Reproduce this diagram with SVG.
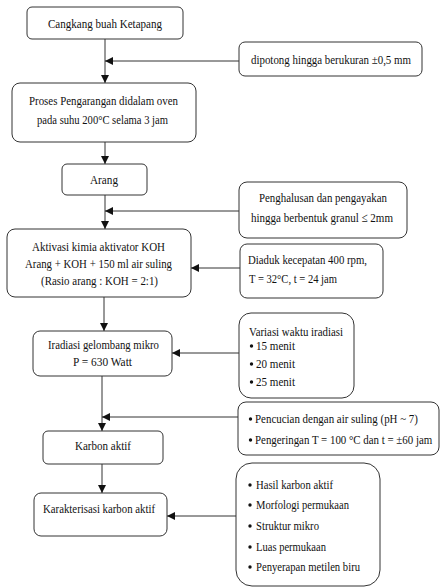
<svg xmlns="http://www.w3.org/2000/svg" width="441" height="587" viewBox="0 0 441 587">
<defs>
<style>
.box{fill:#fff;stroke:#333;stroke-width:1}
.t{font-family:"Liberation Serif","Times New Roman",serif;font-size:13px;fill:#111}
.c{text-anchor:middle}
.ln{stroke:#333;stroke-width:1;fill:none}
.b{fill:#111}
</style>
<marker id="ah" viewBox="0 0 8 8" refX="8" refY="4" markerWidth="8" markerHeight="8" markerUnits="userSpaceOnUse" orient="auto">
<path d="M0,0 L8,4 L0,8 Z" fill="#111"/>
</marker>
</defs>
<rect width="441" height="587" fill="#fff"/>
<g id="connectors">
<line class="ln" x1="105" y1="39" x2="105" y2="83" marker-end="url(#ah)"/>
<line class="ln" x1="239" y1="61" x2="105" y2="61" marker-end="url(#ah)"/>
<line class="ln" x1="105" y1="142" x2="105" y2="164" marker-end="url(#ah)"/>
<line class="ln" x1="105" y1="195" x2="105" y2="229" marker-end="url(#ah)"/>
<line class="ln" x1="239" y1="211" x2="105" y2="211" marker-end="url(#ah)"/>
<line class="ln" x1="240" y1="268" x2="191" y2="268" marker-end="url(#ah)"/>
<line class="ln" x1="104" y1="297" x2="104" y2="331" marker-end="url(#ah)"/>
<line class="ln" x1="239" y1="353" x2="172" y2="353" marker-end="url(#ah)"/>
<line class="ln" x1="102" y1="376" x2="102" y2="431" marker-end="url(#ah)"/>
<line class="ln" x1="238" y1="417" x2="102" y2="417" marker-end="url(#ah)"/>
<line class="ln" x1="102" y1="464" x2="102" y2="493" marker-end="url(#ah)"/>
<line class="ln" x1="236" y1="516" x2="167" y2="516" marker-end="url(#ah)"/>
</g>
<g id="n1"><rect class="box" x="27" y="7" width="156" height="32" rx="5"/><text class="t" x="48" y="28" textLength="114" lengthAdjust="spacingAndGlyphs">Cangkang buah Ketapang</text></g>
<g id="n2"><rect class="box" x="239" y="42" width="183" height="34" rx="6"/><text class="t" x="251" y="64" textLength="160" lengthAdjust="spacingAndGlyphs">dipotong hingga berukuran ±0,5 mm</text></g>
<g id="n3"><rect class="box" x="12" y="83" width="184" height="59" rx="8"/><text class="t" x="29" y="105" textLength="149" lengthAdjust="spacingAndGlyphs">Proses Pengarangan didalam oven</text><text class="t" x="37" y="124" textLength="131" lengthAdjust="spacingAndGlyphs">pada suhu 200°C selama 3 jam</text></g>
<g id="n4"><rect class="box" x="62" y="164" width="85" height="31" rx="5"/><text class="t" x="90" y="184" textLength="28" lengthAdjust="spacingAndGlyphs">Arang</text></g>
<g id="n5"><rect class="box" x="239" y="182" width="168" height="56" rx="8"/><text class="t" x="259" y="202" textLength="128" lengthAdjust="spacingAndGlyphs">Penghalusan dan pengayakan</text><text class="t" x="251" y="222" textLength="142" lengthAdjust="spacingAndGlyphs">hingga berbentuk granul ≤ 2mm</text></g>
<g id="n6"><rect class="box" x="7" y="229" width="184" height="68" rx="8"/><text class="t" x="32" y="251" textLength="133" lengthAdjust="spacingAndGlyphs">Aktivasi kimia aktivator KOH</text><text class="t" x="25" y="268" textLength="147" lengthAdjust="spacingAndGlyphs">Arang + KOH + 150 ml air suling</text><text class="t" x="41" y="285" textLength="117" lengthAdjust="spacingAndGlyphs">(Rasio arang : KOH = 2:1)</text></g>
<g id="n7"><rect class="box" x="240" y="244" width="143" height="54" rx="7"/><text class="t" x="248" y="264" textLength="119" lengthAdjust="spacingAndGlyphs">Diaduk kecepatan 400 rpm,</text><text class="t" x="249" y="283" textLength="88" lengthAdjust="spacingAndGlyphs">T = 32°C, t = 24 jam</text></g>
<g id="n8"><rect class="box" x="33" y="331" width="139" height="45" rx="7"/><text class="t" x="48" y="349" textLength="111" lengthAdjust="spacingAndGlyphs">Iradiasi gelombang mikro</text><text class="t" x="73" y="366" textLength="59" lengthAdjust="spacingAndGlyphs">P = 630 Watt</text></g>
<g id="n9"><rect class="box" x="239" y="313" width="115" height="85" rx="12"/><text class="t" x="249" y="336" textLength="94" lengthAdjust="spacingAndGlyphs">Variasi waktu iradiasi</text><circle class="b" cx="251.5" cy="346" r="1.7"/><text class="t" x="256" y="350" textLength="39" lengthAdjust="spacingAndGlyphs">15 menit</text><circle class="b" cx="251.5" cy="364" r="1.7"/><text class="t" x="256" y="368" textLength="39" lengthAdjust="spacingAndGlyphs">20 menit</text><circle class="b" cx="251.5" cy="382" r="1.7"/><text class="t" x="256" y="386" textLength="39" lengthAdjust="spacingAndGlyphs">25 menit</text></g>
<g id="n10"><rect class="box" x="238" y="402" width="201" height="53" rx="8"/><circle class="b" cx="250.5" cy="419" r="1.7"/><text class="t" transform="translate(255,423) scale(0.84,1)" x="0" y="0" textLength="194" lengthAdjust="spacingAndGlyphs">Pencucian dengan air suling (pH ~ 7)</text><circle class="b" cx="250.5" cy="440" r="1.7"/><text class="t" transform="translate(255,444) scale(0.84,1)" x="0" y="0" textLength="211" lengthAdjust="spacingAndGlyphs">Pengeringan T = 100 °C dan t = ±60 jam</text></g>
<g id="n11"><rect class="box" x="43" y="431" width="120" height="33" rx="5"/><text class="t" x="75" y="450" textLength="56" lengthAdjust="spacingAndGlyphs">Karbon aktif</text></g>
<g id="n12"><rect class="box" x="34" y="493" width="133" height="43" rx="7"/><text class="t" x="43" y="513" textLength="112" lengthAdjust="spacingAndGlyphs">Karakterisasi karbon aktif</text></g>
<g id="n13"><rect class="box" x="236" y="463" width="144" height="123" rx="16"/><circle class="b" cx="250" cy="485" r="1.7"/><text class="t" x="256" y="489" textLength="77" lengthAdjust="spacingAndGlyphs">Hasil karbon aktif</text><circle class="b" cx="250" cy="505" r="1.7"/><text class="t" x="256" y="509" textLength="93" lengthAdjust="spacingAndGlyphs">Morfologi permukaan</text><circle class="b" cx="250" cy="526" r="1.7"/><text class="t" x="256" y="530" textLength="63" lengthAdjust="spacingAndGlyphs">Struktur mikro</text><circle class="b" cx="250" cy="547" r="1.7"/><text class="t" x="256" y="551" textLength="70" lengthAdjust="spacingAndGlyphs">Luas permukaan</text><circle class="b" cx="250" cy="567" r="1.7"/><text class="t" x="256" y="571" textLength="104" lengthAdjust="spacingAndGlyphs">Penyerapan metilen biru</text></g>
</svg>
